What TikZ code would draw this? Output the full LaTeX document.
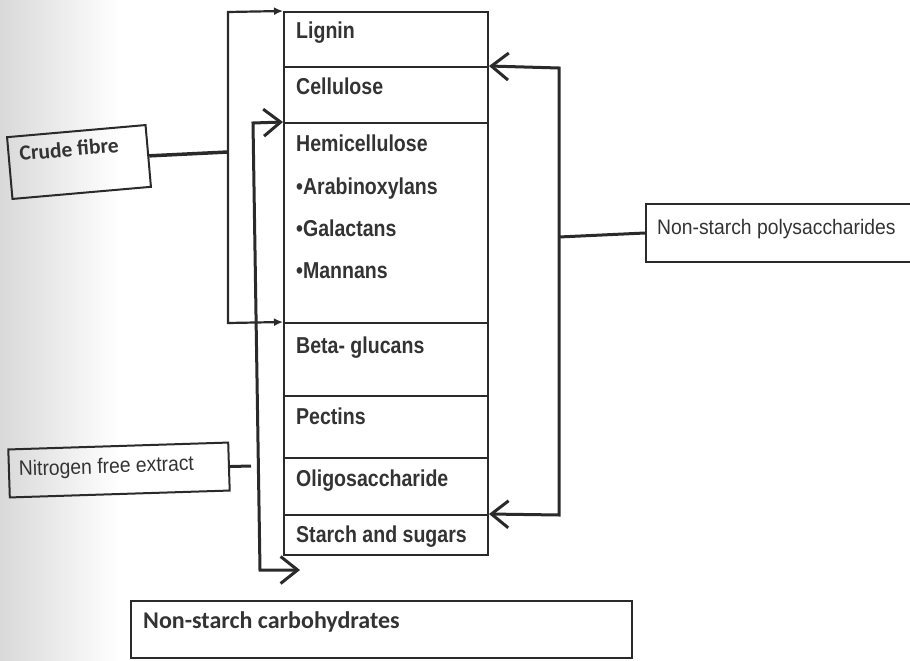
\documentclass[tikz,border=0pt]{standalone}
\usepackage{fontspec}
\setmainfont{Liberation Sans}
\newfontfamily\narrowsans[FakeStretch=0.85]{Liberation Sans}
\newfontfamily\narrowreg[FakeStretch=0.92]{Liberation Sans}
\newfontfamily\carl{Carlito}
\usetikzlibrary{arrows.meta}
\definecolor{linec}{HTML}{2A2A2A}
\definecolor{txt}{HTML}{333333}
\tikzset{
  cell/.style={draw=linec, line width=2pt, minimum width=204pt, inner sep=0pt},
  lab/.style={anchor=base west, font=\narrowsans\bfseries\fontsize{23}{24}\selectfont, text=txt, inner sep=0pt},
  plainlab/.style={anchor=base west, font=\narrowreg\fontsize{21}{22}\selectfont, text=txt, inner sep=0pt},
  carlab/.style={anchor=base west, inner sep=0pt, text=txt, font=\carl\bfseries\fontsize{24}{25}\selectfont},
  boxc/.style={draw=linec, line width=2pt, inner sep=0pt},
  conn/.style={draw=linec, line width=3pt},
  thin conn/.style={draw=linec, line width=2.2pt},
  bigtip/.tip={Straight Barb[length=17pt,width=27pt]},
  smalltip/.tip={Latex[length=9pt,width=8pt]}
}
\begin{document}
\begin{tikzpicture}[x=1pt,y=-1pt]
\clip (0,0) rectangle (910,661);
\useasboundingbox (0,0) rectangle (910,661);
\fill[left color=black!15, right color=white] (0,0) rectangle (120,661);
% column cells
\node[cell, minimum height=55pt] (lignin) at (386,39.5) {};
\node[cell, minimum height=56pt] (cell) at (386,95) {};
\node[cell, minimum height=200pt] (hemi) at (386,223) {};
\node[cell, minimum height=73pt] (beta) at (386,359.5) {};
\node[cell, minimum height=62pt] (pect) at (386,427) {};
\node[cell, minimum height=57pt] (oligo) at (386,486.5) {};
\node[cell, minimum height=40pt] (starch) at (386,535) {};
% labels
\node[lab] (tlig) at (296,39) {Lignin};
\node[lab] (tcel) at (296,95) {Cellulose};
\node[lab] (them) at (296,151) {Hemicellulose};
\node[lab] (tara) at (296,194) {•Arabinoxylans};
\node[lab] (tgal) at (296,236) {•Galactans};
\node[lab] (tman) at (296,278) {•Mannans};
\node[lab] (tbet) at (296,353) {Beta- glucans};
\node[lab] (tpec) at (296,424) {Pectins};
\node[lab] (toli) at (296,486) {Oligosaccharide};
\node[lab] (tsta) at (296,542) {Starch and sugars};
% side boxes
\node[boxc, rotate=5, minimum width=139pt, minimum height=62pt] (crude) at (79,162) {};
\node[carlab, rotate=5, font=\carl\bfseries\fontsize{21.5}{22}\selectfont] (tcrude) at (20,161) {Crude fibre};
\node[boxc, rotate=1.8, minimum width=220pt, minimum height=48pt] (nfe) at (119,470) {};
\node[plainlab, rotate=1.8] (tnfe) at (19,476) {Nitrogen free extract};
\node[boxc, minimum width=270pt, minimum height=58pt] (nsp) at (781,233) {};
\node[plainlab] (tnsp) at (657,234) {Non-starch polysaccharides};
\node[boxc, minimum width=501pt, minimum height=57pt] (nsc) at (381.5,629.5) {};
\node[carlab] (tnsc) at (143,628) {Non-starch carbohydrates};
% coordinates
\coordinate (jc) at (228,152);
\coordinate (jn) at (251,466);
\coordinate (jr) at (559,237);
\coordinate (endarr) at (300,570);
% left bracket (crude fibre)
\draw[thin conn, smalltip-smalltip] (lignin.north west) -- (228,12) -- (228,323) -- (beta.north west);
\draw[conn, line width=3.5pt] (crude.east) -- (jc);
% inner bracket (NFE)
\draw[conn, bigtip-bigtip] (hemi.north west) -- (253,123) -- (260,570) -- (endarr);
\draw[conn] (nfe.east) -- (jn);
% right bracket (NSP)
\draw[conn, bigtip-bigtip] (cell.north east) -- (559,68) -- (559,515) -- (starch.north east);
\draw[conn] (jr) -- (nsp.west);
\end{tikzpicture}
\end{document}
